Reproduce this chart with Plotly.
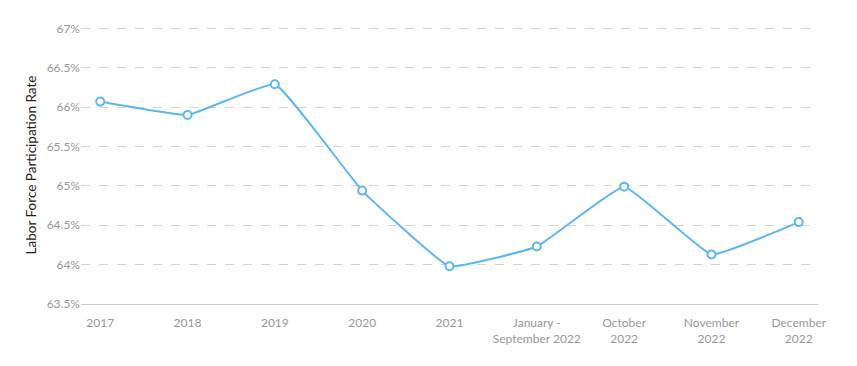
import plotly.graph_objects as go

categories = ["2017", "2018", "2019", "2020", "2021", "January -<br>September 2022",
              "October<br>2022", "November<br>2022", "December<br>2022"]
rates = [66.07, 65.90, 66.29, 64.94, 63.98, 64.23, 64.99, 64.13, 64.54]
tick_vals = [63.5, 64, 64.5, 65, 65.5, 66, 66.5, 67]
tick_text = ["63.5%", "64%", "64.5%", "65%", "65.5%", "66%", "66.5%", "67%"]

fig = go.Figure()
fig.add_trace(go.Scatter(
    x=list(range(len(categories))), y=rates, mode="lines+markers",
    line=dict(color="#5ab9f5", width=2, shape="spline", smoothing=0.3),
    marker=dict(size=8, color="white", line=dict(color="#5ab9f5", width=2)),
    hoverinfo="y",
))
fig.update_layout(
    width=849, height=358,
    margin=dict(l=73, r=39, t=18, b=62),
    paper_bgcolor="white", plot_bgcolor="white",
    font=dict(family="Lato, sans-serif", size=12, color="#999999"),
    showlegend=False,
    xaxis=dict(
        tickmode="array", tickvals=list(range(len(categories))), ticktext=categories,
        range=[-0.22, 8.22], showgrid=False, zeroline=False, automargin=False,
        showline=True, linecolor="#cccccc", linewidth=1,
        tickfont=dict(size=12, color="#999999"),
        ticks="outside", ticklen=8, tickcolor="rgba(0,0,0,0)",
    ),
    yaxis=dict(
        range=[63.5, 67.03], tickmode="array", tickvals=tick_vals, ticktext=tick_text,
        showgrid=True, gridcolor="#d3d3d3", griddash="dash", gridwidth=1,
        zeroline=False, showline=False, ticks="", automargin=False,
        tickfont=dict(size=12, color="#999999"),
        title=dict(text="Labor Force Participation Rate", font=dict(size=13.5, color="#222222"), standoff=6),
    ),
)
fig.write_html("out.html")
